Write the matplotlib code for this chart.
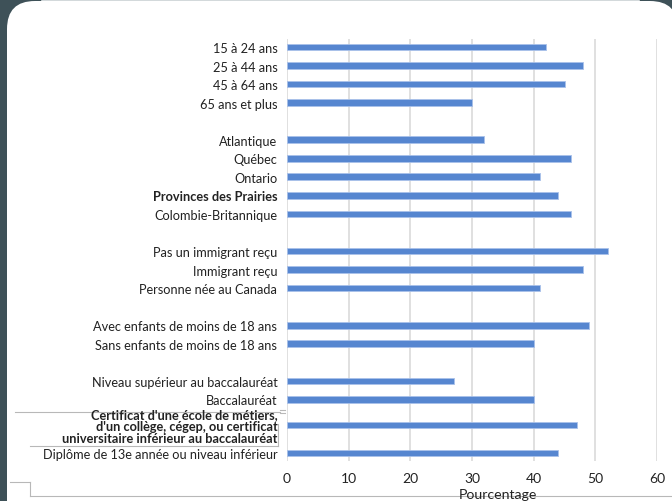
import numpy as np
import matplotlib.pyplot as plt
from matplotlib.patches import Rectangle, FancyBboxPatch
from matplotlib.lines import Line2D

# categories top -> bottom, None = blank separator row
labels = [
    "15 à 24 ans", "25 à 44 ans", "45 à 64 ans", "65 ans et plus", None,
    "Atlantique", "Québec", "Ontario", "Provinces des Prairies", "Colombie-Britannique", None,
    "Pas un immigrant reçu", "Immigrant reçu", "Personne née au Canada", None,
    "Avec enfants de moins de 18 ans", "Sans enfants de moins de 18 ans", None,
    "Niveau supérieur au baccalauréat", "Baccalauréat",
    "Certificat d'une école de métiers,\nd'un collège, cégep, ou certificat\nuniversitaire inférieur au baccalauréat",
    "Diplôme de 13e année ou niveau inférieur",
]
values = [42, 48, 45, 30, None,
          32, 46, 41, 44, 46, None,
          52, 48, 41, None,
          49, 40, None,
          27, 40, 47, 44]
bold_labels = ["Provinces des Prairies",
               "Certificat d'une école de métiers,\nd'un collège, cégep, ou certificat\nuniversitaire inférieur au baccalauréat"]
xticks = [0, 10, 20, 30, 40, 50, 60]

# row spacing (the three-line label needs a little extra room)
steps = [1.0] * (len(labels) - 1)
steps[-2] = 1.38
steps[-1] = 1.51
ypos = np.concatenate([[0], np.cumsum(steps)])

plt.rcParams['font.family'] = ['Lato', 'DejaVu Sans']
W, H = 672, 502
fig = plt.figure(figsize=(W / 100, H / 100), dpi=100, facecolor='#d3d9db')

def fx(x):
    return x / W

def fy(y):
    return 1 - y / H

dark = '#3e5158'
# frame
for r in [(0, 0, 7, H), (0, 0, 40, 30), (640, 0, 40, 30)]:
    fig.patches.append(Rectangle((fx(r[0]), fy(r[1] + r[3])), fx(r[2]), r[3] / H,
                                 transform=fig.transFigure, color=dark, zorder=-3))
panel = FancyBboxPatch((7, -40), 671, 540, boxstyle="round,pad=0,rounding_size=28",
                       transform=None, facecolor='white', edgecolor='none', zorder=-2)
fig.patches.append(panel)

ax = fig.add_axes([fx(287), fy(462), fx(657) - fx(287), fy(40) - fy(462)])
ax.set_facecolor('none')

rows = [i for i, v in enumerate(values) if v is not None]
ax.barh([ypos[i] for i in rows], [values[i] for i in rows], height=0.36,
        color='#5686d0', edgecolor='#a9c1ea', linewidth=0.6, zorder=3)

ax.set_xlim(0, 60)
ax.set_ylim(ypos[-1] + 0.43, -0.43)
ax.set_xticks(xticks)
ax.set_yticks([ypos[i] for i in rows])
ax.set_yticklabels([labels[i] for i in rows])
for t in ax.get_yticklabels():
    t.set_linespacing(1.0)
    if t.get_text() in bold_labels:
        t.set_fontweight('bold')
ax.tick_params(axis='y', length=0, pad=7, labelsize=9.2, labelcolor='#222222')
ax.tick_params(axis='x', length=0, pad=8, labelsize=10, labelcolor='#222222')
ax.grid(axis='x', color='#e0e0e0', linewidth=1.4, zorder=0)
for s in ax.spines.values():
    s.set_visible(False)

fig.text(fx(498), fy(495), "Pourcentage", ha='center', va='center', fontsize=10.2, color='#222222')

# stray box outlines left in the screenshot
gray = '#b8b8b8'
for xs, ys in [([15, 280], [413, 413]), ([280, 285], [411, 411]), ([280, 285], [414, 414]),
               ([278, 278], [425, 447]), ([30, 278], [447, 447]),
               ([10, 30], [483, 483]), ([30, 30], [483, 497]), ([30, 672], [497, 497])]:
    fig.lines.append(Line2D([fx(x) for x in xs], [fy(y) for y in ys], transform=fig.transFigure,
                            color=gray, linewidth=0.8, zorder=-1))

fig.savefig('out.png', dpi=100)
